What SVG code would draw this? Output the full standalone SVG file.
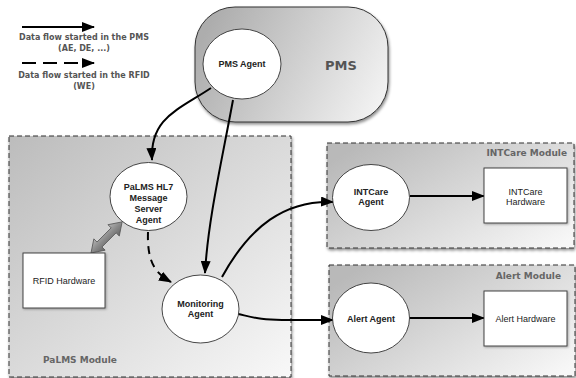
<svg xmlns="http://www.w3.org/2000/svg" width="576" height="378" viewBox="0 0 576 378">
  <defs>
    <linearGradient id="gModule" x1="0" y1="0" x2="1" y2="1">
      <stop offset="0" stop-color="#bcbcbc"/>
      <stop offset="1" stop-color="#f8f8f8"/>
    </linearGradient>
    <linearGradient id="gSide" x1="0" y1="0.2" x2="1" y2="0.9">
      <stop offset="0" stop-color="#b9b9b9"/>
      <stop offset="1" stop-color="#f7f7f7"/>
    </linearGradient>
    <linearGradient id="gPms" x1="0" y1="0.4" x2="1" y2="0.7">
      <stop offset="0" stop-color="#adadad"/>
      <stop offset="1" stop-color="#f2f2f2"/>
    </linearGradient>
    <linearGradient id="gLink" x1="0" y1="0" x2="0" y2="1">
      <stop offset="0" stop-color="#b5b5b5"/>
      <stop offset="0.5" stop-color="#8a8a8a"/>
      <stop offset="1" stop-color="#666"/>
    </linearGradient>
    <filter id="shadow" x="-10%" y="-10%" width="120%" height="130%">
      <feDropShadow dx="1" dy="2" stdDeviation="1.5" flood-color="#000" flood-opacity="0.45"/>
    </filter>
    <filter id="softShadow" x="-10%" y="-10%" width="130%" height="130%">
      <feDropShadow dx="1" dy="1" stdDeviation="1" flood-color="#000" flood-opacity="0.3"/>
    </filter>
    <marker id="arrow" viewBox="0 0 13 10" refX="12" refY="5" markerWidth="13" markerHeight="10" markerUnits="userSpaceOnUse" orient="auto">
      <path d="M0,0 L13,5 L0,10 Z" fill="#000"/>
    </marker>
  </defs>
  <style>
    .module { stroke: #333; stroke-width: 1; stroke-dasharray: 5 3; }
    .agent { fill: #fff; stroke: #333; stroke-width: 0.9; }
    .hw { fill: #fff; stroke: #444; stroke-width: 1; }
    .flow { fill: none; stroke: #000; stroke-width: 2; marker-end: url(#arrow); }
    .dashed { stroke-dasharray: 8 6; }
    .legDash { stroke-dasharray: 14 7; }
    .agentText { font-family: "Liberation Sans", Arial, sans-serif; font-weight: bold; font-size: 9px; fill: #222; text-anchor: middle; }
    .hwText { font-family: "Liberation Sans", Arial, sans-serif; font-size: 9px; fill: #222; text-anchor: middle; }
    .modText { font-family: "DejaVu Sans", Verdana, sans-serif; font-weight: bold; font-size: 9px; fill: #666; }
    .legText { font-family: "DejaVu Sans", Verdana, sans-serif; font-weight: bold; font-size: 8px; fill: #555; text-anchor: middle; }
  </style>

  <!-- Legend -->
  <g id="legend">
    <line x1="22" y1="27" x2="94" y2="27" class="flow"/>
    <text class="legText" x="84" y="40">Data flow started in the PMS</text>
    <text class="legText" x="84" y="51">(AE, DE, ...)</text>
    <line x1="22" y1="63" x2="94" y2="63" class="flow legDash"/>
    <text class="legText" x="84" y="78">Data flow started in the RFID</text>
    <text class="legText" x="84" y="89">(WE)</text>
  </g>

  <!-- Containers -->
  <g id="pms">
    <rect x="195" y="7" width="193" height="115" rx="40" ry="40" fill="url(#gPms)" stroke="#333" stroke-width="1" filter="url(#shadow)"/>
    <text x="341" y="70" font-family="DejaVu Sans, Verdana, sans-serif" font-weight="bold" font-size="13" fill="#555" text-anchor="middle">PMS</text>
  </g>
  <g id="palms-module">
    <rect x="9" y="136" width="282" height="241" fill="url(#gModule)" class="module" filter="url(#shadow)"/>
    <text class="modText" x="43" y="363">PaLMS Module</text>
  </g>
  <g id="intcare-module">
    <rect x="327" y="143" width="247" height="105" fill="url(#gSide)" class="module" filter="url(#shadow)"/>
    <text class="modText" x="567" y="156" text-anchor="end">INTCare Module</text>
  </g>
  <g id="alert-module">
    <rect x="329" y="265" width="246" height="111" fill="url(#gSide)" class="module" filter="url(#shadow)"/>
    <text class="modText" x="561" y="279" text-anchor="end">Alert Module</text>
  </g>

  <!-- Connectors -->
  <g id="connectors">
    <path class="flow" d="M211,88 C178,110 150,118 152,160"/>
    <path class="flow" d="M233,100 C222,160 208,220 205,273"/>
    <path class="flow dashed" d="M148,232 C147,262 155,273 171,282"/>
    <path class="flow" d="M222,277 C250,226 285,200 333,202"/>
    <path class="flow" d="M238,314 C256,318 262,320 282,320 L333,320"/>
    <line class="flow" x1="410" y1="196" x2="484" y2="196"/>
    <line class="flow" x1="409" y1="318" x2="484" y2="318"/>
    <polygon transform="translate(91,253) rotate(-45)" points="0,0 12,-8 12,-3.5 32,-3.5 32,-8 44,0 32,8 32,3.5 12,3.5 12,8" fill="url(#gLink)" stroke="#555" stroke-width="0.8"/>
  </g>

  <!-- Nodes -->
  <g id="pms-agent">
    <ellipse class="agent" cx="242" cy="64" rx="39" ry="35"/>
    <text class="agentText" x="242" y="67">PMS Agent</text>
  </g>
  <g id="hl7-agent">
    <ellipse class="agent" cx="148.5" cy="196.5" rx="38.5" ry="34"/>
    <text class="agentText" x="148.5" y="190">PaLMS HL7</text>
    <text class="agentText" x="148.5" y="201">Message</text>
    <text class="agentText" x="148.5" y="212">Server</text>
    <text class="agentText" x="148.5" y="223">Agent</text>
  </g>
  <g id="monitoring-agent">
    <ellipse class="agent" cx="200.5" cy="309" rx="38.5" ry="34"/>
    <text class="agentText" x="200.5" y="306.5">Monitoring</text>
    <text class="agentText" x="200.5" y="317">Agent</text>
  </g>
  <g id="intcare-agent">
    <ellipse class="agent" cx="371" cy="197.5" rx="38.5" ry="33"/>
    <text class="agentText" x="371" y="195">INTCare</text>
    <text class="agentText" x="371" y="205">Agent</text>
  </g>
  <g id="alert-agent">
    <ellipse class="agent" cx="371" cy="318" rx="38.5" ry="35"/>
    <text class="agentText" x="371" y="321.5">Alert Agent</text>
  </g>
  <g id="rfid-hardware">
    <rect class="hw" x="23" y="253" width="82" height="55" filter="url(#softShadow)"/>
    <text class="hwText" x="64" y="283.5">RFID Hardware</text>
  </g>
  <g id="intcare-hardware">
    <rect class="hw" x="484" y="168" width="83" height="55" filter="url(#softShadow)"/>
    <text class="hwText" x="525.5" y="195">INTCare</text>
    <text class="hwText" x="525.5" y="205">Hardware</text>
  </g>
  <g id="alert-hardware">
    <rect class="hw" x="484" y="291" width="83" height="55" filter="url(#softShadow)"/>
    <text class="hwText" x="525.5" y="321.5">Alert Hardware</text>
  </g>
</svg>
